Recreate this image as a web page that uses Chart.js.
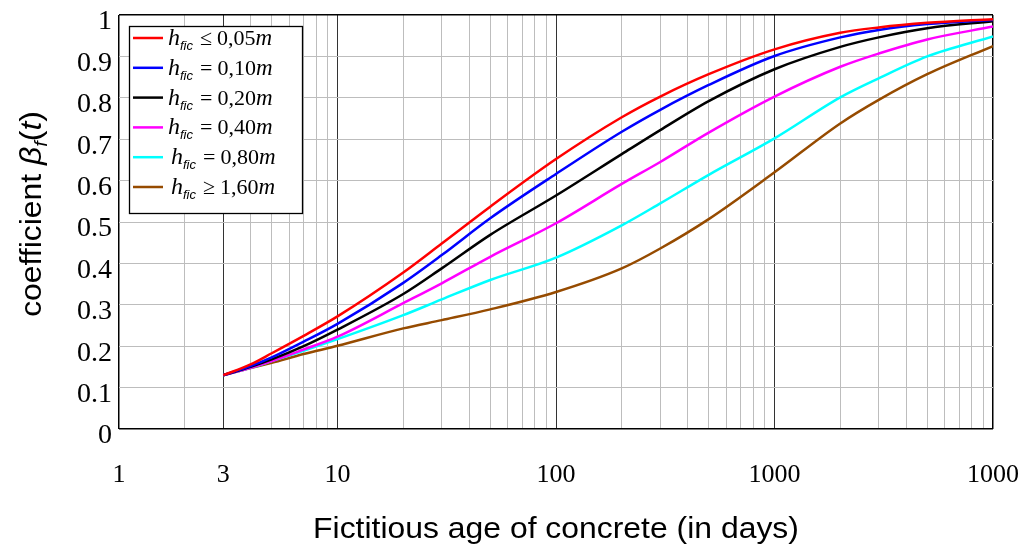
<!DOCTYPE html>
<html>
<head>
<meta charset="utf-8">
<script src="https://cdn.jsdelivr.net/npm/chart.js@4/dist/chart.umd.min.js"></script>
<style>
  html, body { margin: 0; padding: 0; background: #fff; }
  #wrap { width: 1024px; height: 547px; }
</style>
</head>
<body>
<div id="wrap"><canvas id="betaChart" width="1024" height="547"></canvas></div>
<script>
const days = [3, 4, 5, 7, 10, 20, 30, 50, 100, 200, 300, 500, 1000, 2000, 3000, 5000, 10000];

// beta_f(t) for each notional size h_fic
const beta005 = [0.13, 0.156, 0.183, 0.225, 0.272, 0.378, 0.448, 0.537, 0.652, 0.753, 0.803, 0.857, 0.917, 0.957, 0.970, 0.981, 0.990];
const beta010 = [0.13, 0.152, 0.173, 0.211, 0.254, 0.353, 0.420, 0.509, 0.616, 0.718, 0.771, 0.831, 0.901, 0.946, 0.964, 0.978, 0.988];
const beta020 = [0.13, 0.150, 0.168, 0.200, 0.240, 0.326, 0.388, 0.469, 0.564, 0.664, 0.722, 0.792, 0.869, 0.923, 0.946, 0.968, 0.985];
const beta040 = [0.13, 0.148, 0.164, 0.192, 0.223, 0.304, 0.352, 0.416, 0.497, 0.592, 0.645, 0.716, 0.803, 0.875, 0.907, 0.941, 0.972];
const beta080 = [0.13, 0.148, 0.164, 0.189, 0.217, 0.275, 0.313, 0.360, 0.414, 0.492, 0.545, 0.614, 0.702, 0.801, 0.847, 0.900, 0.948];
const beta160 = [0.13, 0.147, 0.160, 0.181, 0.201, 0.243, 0.263, 0.289, 0.331, 0.388, 0.436, 0.507, 0.620, 0.738, 0.795, 0.857, 0.925];

const legendRelations = ['\u2264', '=', '=', '=', '=', '\u2265'];
const legendValues = ['0,05', '0,10', '0,20', '0,40', '0,80', '1,60'];
const seriesColors = ['#ff0000', '#0000ff', '#000000', '#ff00ff', '#00ffff', '#964b00'];

// x axis: labelled ticks and where the dark grid lines go
const xTickValues = [1, 3, 10, 100, 1000, 10000];
const xTickLabels = ['1', '3', '10', '100', '1000', '1000'];
const darkGridValues = [3, 10, 100, 1000];

const allSeries = [beta005, beta010, beta020, beta040, beta080, beta160];

const datasets = allSeries.map((vals, i) => ({
    label: 'h_fic ' + legendRelations[i] + ' ' + legendValues[i] + 'm',
    data: days.map((d, k) => ({ x: d, y: vals[k] })),
    borderColor: seriesColors[i],
    backgroundColor: seriesColors[i],
    borderWidth: 2.5,
    pointRadius: 0,
    cubicInterpolationMode: 'monotone',
    fill: false
}));

// every 1..9 step of each decade, for the log grid
const minorValues = [];
for (let d = 1; d < 10000; d *= 10) {
    for (let m = 1; m < 10; m++) minorValues.push(d * m);
}
minorValues.push(10000);

const serif = '"Liberation Serif", "Times New Roman", serif';
const sans = '"Liberation Sans", Arial, sans-serif';

// titles and the legend box are drawn by hand (italic + subscripts)
const extras = {
    id: 'extras',
    afterDatasetsDraw(chart) {
        const ctx = chart.ctx;
        const a = chart.chartArea;
        ctx.save();

        // legend
        const bx = a.left + 10, by = a.top + 11, bw = 173, bh = 187;
        ctx.fillStyle = '#fff';
        ctx.fillRect(bx, by, bw, bh);
        ctx.strokeStyle = '#000';
        ctx.lineWidth = 1.3;
        ctx.strokeRect(bx + 0.5, by + 0.5, bw, bh);

        chart.data.datasets.forEach((ds, i) => {
            const y = by + 12 + i * 29.8;
            ctx.strokeStyle = ds.borderColor;
            ctx.lineWidth = 2.5;
            ctx.beginPath();
            ctx.moveTo(bx + 4, y);
            ctx.lineTo(bx + 34, y);
            ctx.stroke();

            let x = bx + 39 + (i >= 4 ? 3 : 0);
            const base = y + 7;
            ctx.fillStyle = '#000';
            ctx.textBaseline = 'alphabetic';
            ctx.textAlign = 'left';
            ctx.font = 'italic 24px ' + serif;
            ctx.fillText('h', x, base);
            x += ctx.measureText('h').width;
            ctx.font = 'italic 13px ' + sans;
            ctx.fillText('fic', x, base + 5);
            x += ctx.measureText('fic').width + 7;
            ctx.font = '22px ' + serif;
            ctx.fillText(legendRelations[i], x, base);
            x += ctx.measureText(legendRelations[i]).width + 5;
            ctx.fillText(legendValues[i], x, base);
            x += ctx.measureText(legendValues[i]).width;
            ctx.font = 'italic 23px ' + serif;
            ctx.fillText('m', x, base);
        });

        // x title (source lettering is a bit wider than Arial)
        ctx.save();
        ctx.fillStyle = '#000';
        ctx.font = '29px ' + sans;
        ctx.textAlign = 'center';
        ctx.textBaseline = 'alphabetic';
        ctx.translate((a.left + a.right) / 2, 538);
        ctx.scale(1.1, 1);
        ctx.fillText('Fictitious age of concrete (in days)', 0, 0);
        ctx.restore();

        // y title: coefficient βf(t)
        const parts = [
            { t: 'coefficient ', f: '29px ' + sans, dy: 0 },
            { t: '\u03b2', f: 'italic 29px ' + sans, dy: 0 },
            { t: 'f', f: 'italic 18px ' + sans, dy: 6 },
            { t: '(', f: '29px ' + sans, dy: 0 },
            { t: 't', f: 'italic 29px ' + sans, dy: 0 },
            { t: ')', f: '29px ' + sans, dy: 0 }
        ];
        let total = 0;
        parts.forEach(p => { ctx.font = p.f; p.w = ctx.measureText(p.t).width; total += p.w; });
        ctx.fillStyle = '#000';
        ctx.textAlign = 'left';
        ctx.textBaseline = 'alphabetic';
        ctx.translate(41, (a.top + a.bottom) / 2 - 8);
        ctx.rotate(-Math.PI / 2);
        ctx.scale(1.1, 1);
        let px = -total / 2;
        parts.forEach(p => {
            ctx.font = p.f;
            ctx.fillText(p.t, px, p.dy);
            px += p.w;
        });
        ctx.restore();
    }
};

new Chart(document.getElementById('betaChart'), {
    type: 'line',
    data: { datasets: datasets },
    options: {
        responsive: false,
        animation: false,
        layout: { padding: { top: 15, right: 31, left: 0, bottom: 0 } },
        plugins: {
            legend: { display: false },
            tooltip: { enabled: false }
        },
        scales: {
            x: {
                type: 'logarithmic',
                min: 1,
                max: 10000,
                afterBuildTicks: scale => { scale.ticks = minorValues.map(v => ({ value: v })); },
                afterFit: scale => {
                    scale.height = 118;
                    scale.paddingLeft = 0;
                    scale.paddingRight = 0;
                },
                grid: {
                    drawTicks: false,
                    color: c => {
                        const v = c.tick ? c.tick.value : 0;
                        if (v === 1 || v === 10000) return '#000';
                        return darkGridValues.includes(v) ? '#333' : '#bdbdbd';
                    },
                    lineWidth: c => {
                        const v = c.tick ? c.tick.value : 0;
                        return (v === 1 || v === 10000) ? 1.5 : 1;
                    }
                },
                border: { display: false },
                ticks: {
                    autoSkip: false,
                    maxRotation: 0,
                    padding: 31,
                    color: '#000',
                    font: { family: serif, size: 26 },
                    callback: v => {
                        const idx = xTickValues.indexOf(v);
                        return idx >= 0 ? xTickLabels[idx] : '';
                    }
                }
            },
            y: {
                min: 0,
                max: 1,
                afterFit: scale => {
                    scale.width = 119;
                    scale.paddingTop = 0;
                    scale.paddingBottom = 0;
                },
                grid: {
                    drawTicks: false,
                    color: c => {
                        const v = c.tick ? c.tick.value : 0;
                        return (v === 0 || v === 1) ? '#000' : '#bdbdbd';
                    },
                    lineWidth: c => {
                        const v = c.tick ? c.tick.value : 0;
                        return (v === 0 || v === 1) ? 1.5 : 1;
                    }
                },
                border: { display: false },
                ticks: {
                    stepSize: 0.1,
                    padding: 7,
                    labelOffset: 7,
                    color: '#000',
                    font: { family: serif, size: 28 },
                    callback: v => String(+v.toFixed(1))
                }
            }
        }
    },
    plugins: [extras]
});
</script>
</body>
</html>
